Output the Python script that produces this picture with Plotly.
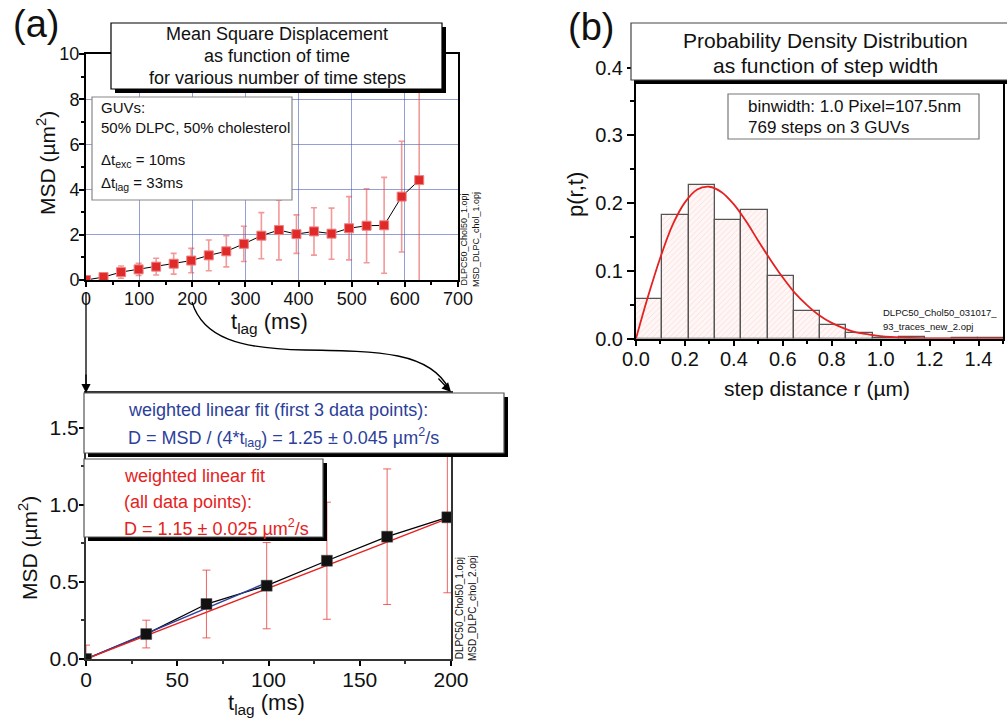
import plotly.graph_objects as go

W, H = 1007, 720
FONT = "Liberation Sans, Arial, sans-serif"


def px(x):
    return x / W


def py(y):
    return 1 - y / H


# ---------------- data ----------------
# (a) top: MSD vs t_lag
msd_t = [0, 33, 66, 99, 132, 165, 198, 231, 264, 297, 330, 363, 396, 429, 462, 495, 528, 561, 594, 627]
msd_val = [0.0, 0.13, 0.35, 0.47, 0.59, 0.72, 0.86, 1.09, 1.27, 1.60, 1.96, 2.21, 2.03, 2.15, 2.05,
           2.29, 2.40, 2.42, 3.69, 4.42]
msd_err = [0.05, 0.08, 0.27, 0.27, 0.37, 0.46, 0.54, 0.68, 0.69, 0.78, 1.02, 1.32, 0.85, 1.05, 1.13,
           1.40, 1.64, 2.12, 2.45, 4.45]

# (a) bottom: zoom on first points + fits
fit_t = [0, 33, 66, 99, 132, 165, 198]
fit_msd = [0.0, 0.162, 0.357, 0.476, 0.638, 0.794, 0.920]
fit_err = [0.09, 0.09, 0.22, 0.28, 0.38, 0.44, 0.49]
blue_fit_t = [0, 100]
blue_fit_msd = [0.0, 0.50]
red_fit_t = [0, 198]
red_fit_msd = [0.0, 0.911]

# (b) histogram of step widths
bin_left = [0.0, 0.1075, 0.215, 0.3225, 0.43, 0.5375, 0.645, 0.7525, 0.86, 0.9675, 1.075, 1.1825,
            1.29, 1.3975]
bin_width = 0.1075
bin_height = [0.058, 0.182, 0.226, 0.175, 0.190, 0.093, 0.040, 0.020, 0.0075, 0.0013, 0.0026, 0.0,
              0.0013, 0.0013]
curve_r = [0.0, 0.05, 0.1, 0.15, 0.2, 0.25, 0.3, 0.35, 0.4, 0.45, 0.5, 0.55, 0.6, 0.65, 0.7, 0.75,
           0.8, 0.85, 0.9, 0.95, 1.0, 1.1, 1.2, 1.3, 1.5]
curve_p = [0.0, 0.063, 0.120, 0.168, 0.201, 0.220, 0.224, 0.216, 0.198, 0.173, 0.144, 0.116, 0.090,
           0.067, 0.049, 0.034, 0.023, 0.015, 0.009, 0.006, 0.0034, 0.0011, 0.0003, 0.0001, 0.0]

fig = go.Figure()

# ---- top-left ----
fig.add_trace(go.Scatter(
    x=msd_t, y=msd_val, mode="lines", line=dict(color="black", width=1),
    xaxis="x", yaxis="y", showlegend=False, hoverinfo="skip"))
fig.add_trace(go.Scatter(
    x=msd_t, y=msd_val, mode="markers",
    marker=dict(symbol="square", size=9, color="#e02a2a", line=dict(color="#f08080", width=1)),
    error_y=dict(type="data", array=msd_err, color="rgba(232,70,70,0.55)", thickness=1.6, width=3),
    xaxis="x", yaxis="y", showlegend=False))

# ---- bottom-left ----
fig.add_trace(go.Scatter(
    x=fit_t, y=fit_msd, mode="lines", line=dict(color="black", width=1.3),
    xaxis="x2", yaxis="y2", showlegend=False, hoverinfo="skip"))
fig.add_trace(go.Scatter(
    x=blue_fit_t, y=blue_fit_msd, mode="lines", line=dict(color="#2c3f9a", width=1.4),
    xaxis="x2", yaxis="y2", showlegend=False))
fig.add_trace(go.Scatter(
    x=red_fit_t, y=red_fit_msd, mode="lines", line=dict(color="#e52222", width=1.4),
    xaxis="x2", yaxis="y2", showlegend=False))
fig.add_trace(go.Scatter(
    x=fit_t, y=fit_msd, mode="markers",
    marker=dict(symbol="square", size=11, color="#111111", line=dict(color="#555", width=0.5)),
    error_y=dict(type="data", array=fit_err, color="rgba(232,60,60,0.8)", thickness=1, width=4),
    xaxis="x2", yaxis="y2", showlegend=False))

# ---- right: histogram ----
fig.add_trace(go.Bar(
    x=bin_left, y=bin_height, width=[bin_width] * len(bin_left), offset=0,
    marker=dict(color="#fff6f6", line=dict(color="#555555", width=1.3),
                pattern=dict(shape="/", fgcolor="rgba(235,120,120,0.6)", size=4, solidity=0.15)),
    xaxis="x3", yaxis="y3", showlegend=False))
fig.add_trace(go.Scatter(
    x=curve_r, y=curve_p, mode="lines", line=dict(color="#e52222", width=1.8, shape="spline"),
    xaxis="x3", yaxis="y3", showlegend=False))

axis_common = dict(showline=True, mirror=True, linecolor="black", linewidth=2, ticks="outside",
                   ticklen=5, tickwidth=1.5, tickcolor="black", zeroline=False, automargin=False,
                   ticklabelstandoff=-4, tickfont=dict(family=FONT, color="#111"))

fig.update_layout(
    width=W, height=H, margin=dict(l=0, r=0, t=0, b=0, pad=0),
    paper_bgcolor="white", plot_bgcolor="white", bargap=0,
    font=dict(family=FONT, color="#111"),
    xaxis=dict(axis_common, domain=[px(86), px(458)], range=[0, 700], dtick=100,
               tickfont=dict(family=FONT, size=18, color="#111"),
               showgrid=True, gridcolor="rgba(60,80,175,0.55)", gridwidth=1,
               minor=dict(ticks="outside", ticklen=3, dtick=50, tickcolor="black"),
               anchor="y"),
    yaxis=dict(axis_common, domain=[py(280), py(54)], range=[0, 10], dtick=2,
               tickfont=dict(family=FONT, size=18, color="#111"),
               showgrid=True, gridcolor="rgba(60,80,175,0.55)", gridwidth=1,
               minor=dict(ticks="outside", ticklen=3, dtick=1, tickcolor="black"),
               anchor="x"),
    xaxis2=dict(axis_common, domain=[px(86), px(451)], range=[0, 200], dtick=50,
                tickfont=dict(family=FONT, size=21, color="#111"), showgrid=False,
                linecolor="#333", minor=dict(ticks="outside", ticklen=3, dtick=25, tickcolor="#333"),
                anchor="y2"),
    yaxis2=dict(axis_common, domain=[py(659), py(393)], range=[0, 1.727], dtick=0.5,
                tickformat=".1f", tickfont=dict(family=FONT, size=21, color="#111"), showgrid=False,
                linecolor="#333", minor=dict(ticks="outside", ticklen=3, dtick=0.25, tickcolor="#333"),
                anchor="x2"),
    xaxis3=dict(axis_common, domain=[px(636), px(1003)], range=[0, 1.5], dtick=0.2,
                tickformat=".1f", tickfont=dict(family=FONT, size=20, color="#111"), showgrid=False,
                minor=dict(ticks="outside", ticklen=3, dtick=0.1, tickcolor="black"),
                anchor="y3"),
    yaxis3=dict(axis_common, domain=[py(338.5), py(54)], range=[0, 0.42], dtick=0.1,
                tickformat=".1f", tickfont=dict(family=FONT, size=20, color="#111"), showgrid=False,
                ticklen=7, ticklabelstandoff=0,
                minor=dict(ticks="outside", ticklen=4, dtick=0.05, tickcolor="black"),
                anchor="x3"),
)

shapes = []


def box(x0, y0, x1, y1, border="black", shadow=0, bw=1.2):
    if shadow:
        shapes.append(dict(type="rect", xref="paper", yref="paper", layer="above",
                           x0=px(x0 + shadow), x1=px(x1 + shadow), y0=py(y0 + shadow), y1=py(y1 + shadow),
                           fillcolor="black", line=dict(width=0)))
    shapes.append(dict(type="rect", xref="paper", yref="paper", layer="above",
                       x0=px(x0), x1=px(x1), y0=py(y0), y1=py(y1),
                       fillcolor="white", line=dict(color=border, width=bw)))


box(111, 23, 442, 89, shadow=4)          # top-left title
box(92, 97, 292, 200, border="#888")     # GUVs info
box(84, 393, 504, 453, border="#555", shadow=4)   # blue fit box
box(84, 459, 323, 537, border="#555", shadow=4)   # red fit box
box(631, 23, 1010, 80, border="#444", shadow=4)   # right title
box(728, 94, 979, 139, border="#777")    # binwidth box

# curved arrow path
shapes.append(dict(type="path", xref="paper", yref="paper", layer="above",
                   path="M {} {} C {} {}, {} {}, {} {} C {} {}, {} {}, {} {}".format(
                       px(192), py(302), px(203), py(338), px(240), py(349), px(305), py(350),
                       px(380), py(351), px(430), py(352), px(449), py(389)),
                   line=dict(color="black", width=1.3)))
# straight arrow line
shapes.append(dict(type="line", xref="paper", yref="paper", layer="above",
                   x0=px(86), x1=px(86), y0=py(292), y1=py(385), line=dict(color="black", width=1.3)))
fig.update_layout(shapes=shapes)

ann = []


def text(x, y, s, size, color="#111", xanchor="center", yanchor="middle", angle=0):
    ann.append(dict(x=px(x), y=py(y), xref="paper", yref="paper", text=s, showarrow=False,
                    xanchor=xanchor, yanchor=yanchor, textangle=angle,
                    font=dict(family=FONT, size=size, color=color)))


text(36, 24, "(a)", 38)
text(591, 27, "(b)", 38)

text(277, 34, "Mean Square Displacement", 18)
text(277, 56, "as function of time", 18)
text(277, 78, "for various number of time steps", 18)

text(99, 107, "GUVs:", 15, xanchor="left")
text(99, 127, "50% DLPC, 50% cholesterol", 15, xanchor="left")
text(99, 160, "Δt<sub>exc</sub> = 10ms", 15, xanchor="left")
text(99, 183, "Δt<sub>lag</sub> = 33ms", 15, xanchor="left")

text(46, 163, "MSD (µm<sup>2</sup>)", 21, angle=-90)
text(269, 323, "t<sub>lag</sub> (ms)", 22)
text(470, 240, "DLPC50_Chol50_1.opj<br>MSD_DLPC_chol_1.opj", 9, angle=-90)

text(126, 410, "weighted linear fit (first 3 data points):", 18, color="#2c3f9a", xanchor="left")
text(126, 438, "D = MSD / (4*t<sub>lag</sub>) = 1.25 ± 0.045 µm<sup>2</sup>/s", 18, color="#2c3f9a",
     xanchor="left")
text(122, 476, "weighted linear fit", 18, color="#e52222", xanchor="left")
text(122, 502, "(all data points):", 18, color="#e52222", xanchor="left")
text(122, 527, "D = 1.15 ± 0.025 µm<sup>2</sup>/s", 18, color="#e52222", xanchor="left")

text(28, 548, "MSD (µm<sup>2</sup>)", 21, angle=-90)
text(266, 704, "t<sub>lag</sub> (ms)", 22)
text(466, 608, "DLPC50_Chol50_1.opj<br>MSD_DLPC_chol_2.opj", 10, angle=-90)

text(825, 40, "Probability Density Distribution", 21)
text(825, 65, "as function of step width", 21)
text(746, 106, "binwidth: 1.0 Pixel=107.5nm", 17, xanchor="left")
text(746, 127, "769 steps on 3 GUVs", 17, xanchor="left")
text(881, 312, "DLPC50_Chol50_031017_", 9.5, xanchor="left")
text(881, 327, "93_traces_new_2.opj", 9.5, xanchor="left")
text(576, 195, "p(r,t)", 22, angle=-90)
text(817, 388, "step distance r (µm)", 21)

# arrowheads
ann.append(dict(x=px(86), y=py(393), xref="paper", yref="paper", ax=0, ay=-20, showarrow=True,
                arrowhead=2, arrowsize=1.4, arrowwidth=1.3, arrowcolor="black", text=""))
ann.append(dict(x=px(451), y=py(392), xref="paper", yref="paper", ax=-14, ay=-15, showarrow=True,
                arrowhead=2, arrowsize=1.4, arrowwidth=1.3, arrowcolor="black", text=""))

fig.update_layout(annotations=ann)
fig.write_html("out.html")
